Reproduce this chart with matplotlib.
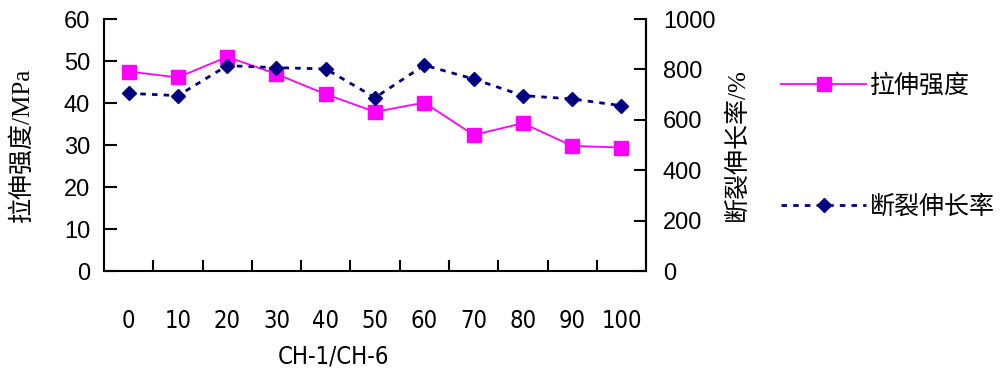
import matplotlib as mpl
from matplotlib import pyplot as plt
from matplotlib import font_manager
import numpy as np

# data
ratio = ["0", "10", "20", "30", "40", "50", "60", "70", "80", "90", "100"]
tensile = [47.5, 46.1, 51.0, 46.9, 42.1, 37.9, 40.1, 32.4, 35.2, 29.8, 29.4]
elongation = [705, 696, 815, 807, 802, 688, 817, 762, 696, 683, 656]

cjk = "Noto Sans CJK SC"
plt.rcParams['font.family'] = ['Liberation Sans', cjk]

# narrow font for the category labels, if one is around
names = {f.name for f in font_manager.fontManager.ttflist}
narrow = {'family': 'Liberation Sans Narrow'} if 'Liberation Sans Narrow' in names \
    else {'family': 'DejaVu Sans', 'stretch': 'condensed'}

fig = plt.figure(figsize=(10.02, 3.71), dpi=100)
ax1 = fig.add_axes([0.1038, 0.2695, 0.541, 0.6792])
ax2 = ax1.twinx()

x = np.arange(len(ratio))
l1, = ax1.plot(x, tensile, color='#FF00FF', lw=1.3, marker='s', ms=10.5,
               mfc='#FF00FF', mec='#FF00FF', label='拉伸强度')
l2, = ax2.plot(x, elongation, color='#000080', lw=2, ls=(0, (2, 2.2)), marker='D', ms=7.5,
               mfc='#000080', mec='#000080', label='断裂伸长率')

ax1.set_xlim(-0.5, len(ratio) - 0.5)
ax1.set_ylim(0, 60)
ax2.set_ylim(0, 1000)
ax1.set_yticks(np.arange(0, 61, 10))
ax2.set_yticks(np.arange(0, 1001, 200))

# category axis: ticks between categories, labels at centres
ax1.set_xticks(np.arange(0.5, len(ratio) - 0.5, 1))
ax1.set_xticks(x, minor=True)
ax1.set_xticklabels([])
ax1.set_xticklabels(ratio, minor=True, fontsize=17, **narrow)
ax1.tick_params(axis='x', which='major', direction='in', length=8, width=1.5)
ax1.tick_params(axis='x', which='minor', length=0, pad=27)

ax1.tick_params(axis='y', direction='in', length=9, width=1.5, labelsize=17, pad=10)
ax2.tick_params(axis='y', direction='in', length=9, width=1.5, labelsize=17, pad=12)

for ax in (ax1, ax2):
    ax.spines['top'].set_visible(False)
    for s in ('left', 'right', 'bottom'):
        ax.spines[s].set_linewidth(1.5)
ax2.spines['left'].set_visible(False)
ax2.spines['bottom'].set_visible(False)

ax1.set_ylabel('拉伸强度/MPa', family=['Liberation Serif', cjk], fontsize=18, labelpad=22)
ax2.set_ylabel('断裂伸长率/%', family=['Liberation Serif', cjk], fontsize=18, labelpad=7)
ax1.set_xlabel('CH-1/CH-6', fontsize=17, **narrow)
ax1.xaxis.set_label_coords(0.4225, -0.29)

fig.legend(handles=[l1, l2], loc='upper left', bbox_to_anchor=(0.767, 0.837),
           frameon=False, prop={'family': cjk, 'size': 18},
           labelspacing=3.8, handlelength=3.4, handletextpad=0.15, borderpad=0)

fig.savefig('out.png', dpi=100)
